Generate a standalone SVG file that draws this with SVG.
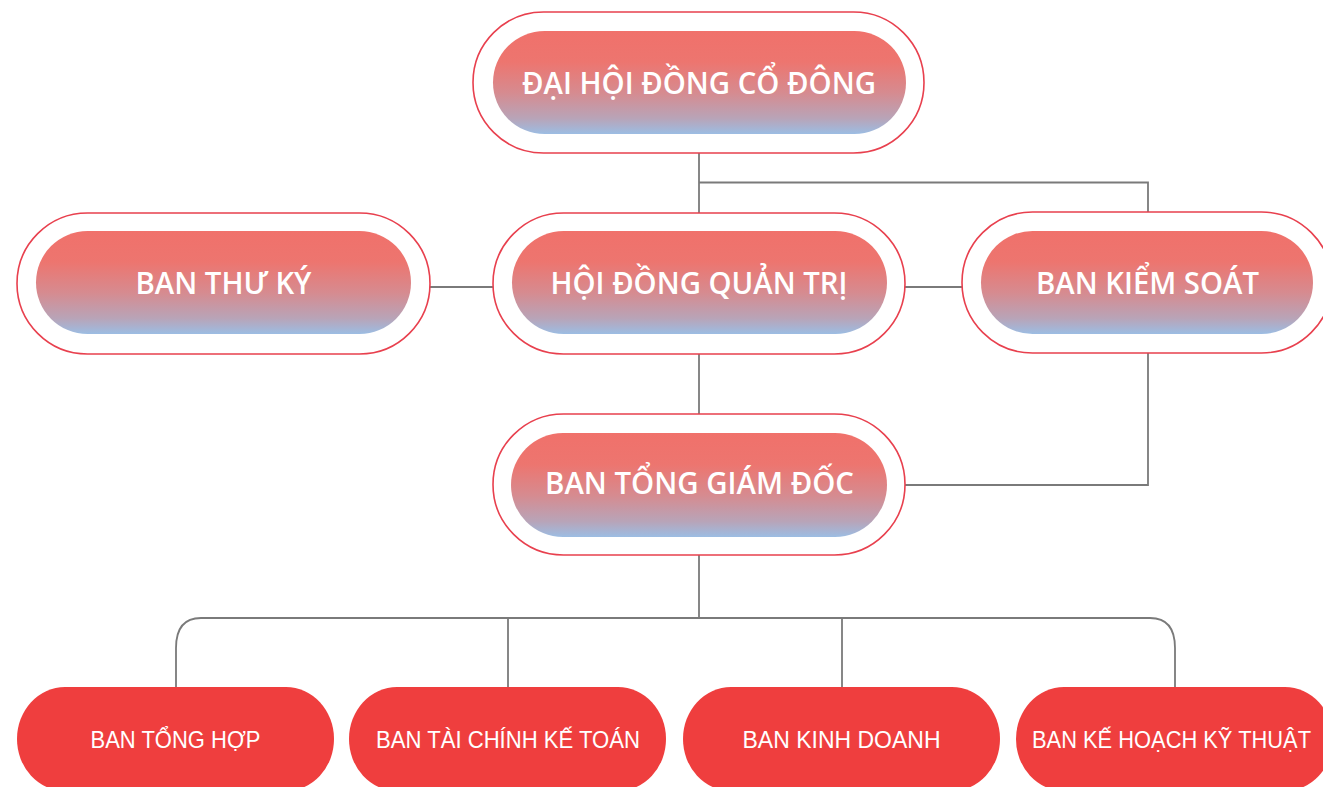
<svg xmlns="http://www.w3.org/2000/svg" width="1323" height="787" viewBox="0 0 1323 787">
<defs>
<linearGradient id="pillGrad" x1="0" y1="0" x2="0" y2="1">
<stop offset="0" stop-color="#f0716b"/>
<stop offset="0.3" stop-color="#ed756f"/>
<stop offset="0.6" stop-color="#d68b90"/>
<stop offset="0.85" stop-color="#b8a4b8"/>
<stop offset="1" stop-color="#9cbde3"/>
</linearGradient>
</defs>
<style>
.outer{fill:#ffffff;stroke:#e8404e;stroke-width:1.6}
.inner{fill:url(#pillGrad)}
.main{font-family:"Open Sans","Noto Sans","DejaVu Sans",sans-serif;font-weight:600;font-size:30px;fill:#ffffff;text-anchor:middle}
.sub{fill:#ef3e3e}
.subt{font-family:"Liberation Sans Narrow","Liberation Sans","Noto Sans",sans-serif;font-size:24px;fill:#ffffff;text-anchor:middle}
.conn{fill:none;stroke:#7a7a7a;stroke-width:1.8}
</style>
<rect width="1323" height="787" fill="#ffffff"/>
<g id="connectors">
<path class="conn" d="M699 153 V213"/>
<path class="conn" d="M699 182.5 H1148 V212"/>
<path class="conn" d="M430 287 H493"/>
<path class="conn" d="M905 287 H962"/>
<path class="conn" d="M699 354 V414"/>
<path class="conn" d="M905 485 H1148 V353"/>
<path class="conn" d="M699 555 V618"/>
<path class="conn" d="M176 687 V648 Q176 618 201 618 H1150 Q1175 618 1175 648 V687"/>
<path class="conn" d="M508 618 V687"/>
<path class="conn" d="M842 618 V687"/>
</g>
<g id="node-dhdcd">
<rect class="outer" x="473" y="12" width="451" height="141" rx="70.5"/>
<rect class="inner" x="493" y="31" width="413" height="103" rx="51.5"/>
<text class="main" x="699" y="94" textLength="354" lengthAdjust="spacingAndGlyphs">ĐẠI HỘI ĐỒNG CỔ ĐÔNG</text>
</g>
<g id="node-banthuky">
<rect class="outer" x="17" y="213" width="413" height="141" rx="70.5"/>
<rect class="inner" x="36" y="231" width="375" height="103" rx="51.5"/>
<text class="main" x="223.5" y="294" textLength="176" lengthAdjust="spacingAndGlyphs">BAN THƯ KÝ</text>
</g>
<g id="node-hdqt">
<rect class="outer" x="493" y="213" width="412" height="141" rx="70.5"/>
<rect class="inner" x="512" y="231" width="375" height="103" rx="51.5"/>
<text class="main" x="699" y="294" textLength="297" lengthAdjust="spacingAndGlyphs">HỘI ĐỒNG QUẢN TRỊ</text>
</g>
<g id="node-bks">
<rect class="outer" x="962" y="212" width="370" height="141" rx="70.5"/>
<rect class="inner" x="981" y="231" width="332" height="103" rx="51.5"/>
<text class="main" x="1147.5" y="294" textLength="223" lengthAdjust="spacingAndGlyphs">BAN KIỂM SOÁT</text>
</g>
<g id="node-btgd">
<rect class="outer" x="493" y="414" width="412" height="141" rx="70.5"/>
<rect class="inner" x="511" y="433" width="376" height="104" rx="52"/>
<text class="main" x="699.5" y="494" textLength="309" lengthAdjust="spacingAndGlyphs">BAN TỔNG GIÁM ĐỐC</text>
</g>
<g id="node-tonghop">
<rect class="sub" x="17" y="687" width="317" height="104" rx="48" ry="52"/>
<text class="subt" x="175.5" y="748" textLength="170" lengthAdjust="spacingAndGlyphs">BAN TỔNG HỢP</text>
</g>
<g id="node-taichinh">
<rect class="sub" x="349" y="687" width="317" height="104" rx="48" ry="52"/>
<text class="subt" x="508" y="748" textLength="264" lengthAdjust="spacingAndGlyphs">BAN TÀI CHÍNH KẾ TOÁN</text>
</g>
<g id="node-kinhdoanh">
<rect class="sub" x="683" y="687" width="317" height="104" rx="48" ry="52"/>
<text class="subt" x="841.5" y="748" textLength="198" lengthAdjust="spacingAndGlyphs">BAN KINH DOANH</text>
</g>
<g id="node-kehoach">
<rect class="sub" x="1016" y="687" width="317" height="104" rx="48" ry="52"/>
<text class="subt" x="1171.5" y="748" textLength="279" lengthAdjust="spacingAndGlyphs">BAN KẾ HOẠCH KỸ THUẬT</text>
</g>
</svg>
